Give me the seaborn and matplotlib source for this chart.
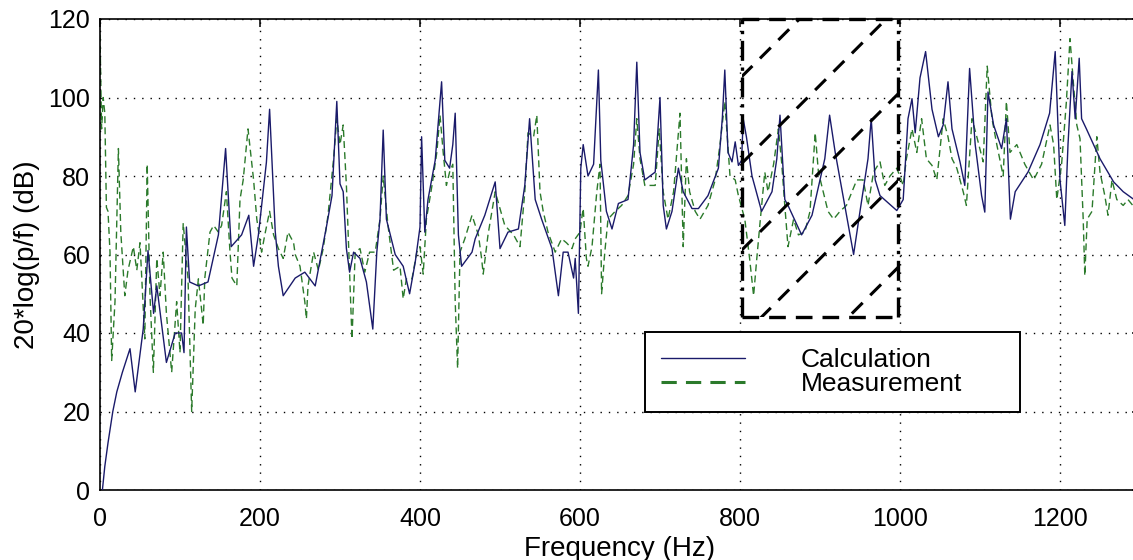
import pandas as pd
import matplotlib.pyplot as plt
import seaborn as sns
from matplotlib.lines import Line2D
from matplotlib.patches import Rectangle

# Calculation (solid) : frequence (Hz) / niveau (dB)
calc_hz = [3, 6, 10, 16, 21, 28, 37.5, 44, 54, 60, 67, 71, 83, 94, 102, 105, 108, 112, 123, 135,
           148, 157, 164, 177, 186, 192, 198, 208, 212, 219, 223, 229, 244, 256, 269, 283, 290, 296,
           300, 304, 308, 312, 317, 325, 333, 341, 346, 350, 354, 358, 369, 379, 387, 394, 400, 402,
           406, 410, 419, 427, 431, 437, 441, 444, 448, 452, 465, 469, 481, 494, 500, 510, 523, 531,
           537, 544, 552, 565, 573, 579, 585, 592, 594, 598, 601, 604, 610, 617, 623, 626, 633, 640,
           648, 660, 667, 671, 675, 681, 694, 700, 704, 708, 715, 723, 729, 740, 748, 760, 773, 778,
           781, 785, 790, 794, 798, 802, 804, 808, 815, 827, 840, 846, 850, 856, 860, 877, 890, 906,
           912, 919, 931, 942, 950, 960, 964, 969, 975, 996, 1004, 1010, 1015, 1019, 1025, 1032,
           1040, 1048, 1054, 1060, 1065, 1075, 1081, 1087, 1094, 1102, 1106, 1110, 1117, 1127, 1133,
           1138, 1144, 1160, 1175, 1187, 1194, 1200, 1206, 1210, 1215, 1219, 1224, 1227, 1233, 1250,
           1267, 1279, 1291, 1300]
calc_db = [0, 6, 12, 20, 25, 30, 36, 25, 41, 61, 45, 52, 32.5, 40, 40, 35, 67, 53, 52, 53,
           65, 87, 62, 65, 70, 57, 65, 83.5, 97, 66, 57, 49.5, 54, 55.5, 52, 67, 75, 99,
           78, 76, 61.5, 55.5, 60.6, 59, 53, 41, 60.6, 69, 91.7, 69, 60, 57, 50, 58, 67, 90,
           65.7, 74, 84, 104, 84, 82, 88, 96, 65, 57, 60.6, 64, 70, 78.5, 61.5, 65.7, 66.5, 77.6,
           94.6, 74, 69, 61.5, 49.5, 60.6, 60.6, 54, 59, 45, 82, 88, 80, 83, 107, 84, 71, 66.5,
           73, 74, 88, 109, 86, 79, 81, 100, 72.5, 66.5, 71, 82, 76, 71.7, 71.7, 75, 82, 95,
           107, 86, 83.6, 88.7, 82.7, 84, 94.6, 90, 80, 71, 76, 84.4, 95.5, 74, 72.5, 65, 70, 84.4,
           95.5, 86, 72.5, 60, 71, 84.4, 94.6, 79, 75, 71.2, 74, 94.6, 99.7, 91, 105, 111.7,
           97, 90, 93, 104, 92, 83.6, 77.6, 107.4, 88, 75, 70.8, 101.4, 93, 87, 94.6,
           69, 76, 81, 88, 96, 111.7, 79, 67.4, 88, 106.6, 94.6, 110, 94.6, 92, 84.4,
           78.5, 76, 74.2, 73]

# Measurement (dashed)
meas_hz = [0, 2, 4, 6, 8, 10, 12.5, 14.6, 18.75, 23, 26, 31, 35, 41.7, 46, 50, 56, 59, 62.5, 66.7,
           71, 75, 79, 83, 89.6, 95.8, 100, 104, 110, 114.6, 119, 123, 129, 131, 137.5, 142, 148,
           152, 158, 162.5, 165, 171, 175, 179, 185, 192, 194, 196, 202, 206, 212, 217, 223, 229,
           235, 242, 244, 250, 256, 258, 260, 267, 273, 279, 285, 292, 296, 300, 304, 308, 312,
           315, 319, 325, 331, 337, 344, 350, 354, 360, 367, 375, 379, 383, 390, 396, 400, 404,
           408, 415, 421, 425, 429, 433, 437, 441, 444, 447, 450, 456, 465, 473, 477, 479, 485,
           494, 500, 506, 517, 525, 531, 535, 542, 546, 550, 554, 560, 569, 577, 583, 590, 594,
           600, 602, 604, 608, 610, 615, 621, 625, 627, 631, 635, 644, 652, 660, 667, 671, 675,
           681, 694, 699, 704, 710, 717, 721, 725, 729, 733, 737, 744, 750, 760, 769, 775, 781,
           787.5, 794, 798, 806, 812, 817, 821, 825, 831, 835, 842, 848, 852, 856, 860, 867, 873,
           881, 887.5, 894, 898, 904, 910, 917, 925, 933, 940, 946, 954, 960, 967, 975, 981, 987.5,
           996, 1004, 1008, 1015, 1021, 1027, 1033, 1040, 1046, 1054, 1060, 1065, 1071, 1079, 1083,
           1090, 1096, 1104, 1109, 1115, 1121, 1129, 1133, 1137.5, 1146, 1156, 1167, 1177, 1187.5,
           1192, 1196, 1202, 1208, 1212.5, 1217, 1221, 1225, 1229, 1231, 1234, 1240, 1246, 1250,
           1256, 1260, 1265, 1271, 1279, 1285, 1291, 1300]
meas_db = [116, 92, 100, 96, 72, 71, 60.6, 33, 48, 87, 65.7, 49.5, 56, 62, 56, 63, 38.5, 83, 49.5, 30,
           59, 49.5, 60.6, 45, 30, 48, 35, 68, 54, 20, 46, 53.8, 42, 54, 65.7, 67.4, 65.7,
           67.4, 76, 60.6, 54, 52, 74, 79, 92, 79, 74, 69, 60.6, 65, 71, 65, 61.5, 59,
           65.7, 63, 60, 57, 48, 43.6, 52, 60.6, 56, 61.5, 70, 84.4, 94.6, 88, 93, 77.6, 55.5,
           38.5, 60.6, 61.5, 55.5, 60.6, 60.6, 69, 80, 67.4, 56, 57, 48.7, 53.8, 53.8, 60.6, 62, 55,
           69, 77.6, 86, 95.5, 86, 77.6, 81, 83, 48, 31, 60.6, 64, 70, 65, 59, 55, 65,
           76, 71.7, 67.4, 65, 62, 76, 91, 90, 95.5, 76, 71, 65.7, 60.6, 64, 63, 61.5, 64,
           65.7, 69, 71.7, 59, 57, 62, 76, 83, 50, 60.6, 69, 71, 72.5, 75, 83, 94.6, 84.4,
           77.6, 77.6, 92, 76, 69, 76, 86, 96, 62, 84.4, 76, 71, 69, 72.5, 79, 88, 99,
           80, 79, 75, 69, 59, 49.5, 59, 68, 81, 76, 83, 92, 83.6, 72.5, 62, 69, 65,
           65.7, 71, 91, 81, 76, 71, 69, 71, 72.5, 76, 79, 79, 72.5, 81, 83.6, 77.6, 80,
           82, 77.6, 84.4, 92, 86, 94.6, 84.4, 82.7, 79, 94.6, 90, 84.4, 82, 76, 72.5,
           94.6, 90, 83.6, 108, 94.6, 88, 80, 99, 86, 88, 83, 79, 83, 93,
           88, 74, 83, 99, 115, 103, 93, 89.5, 69, 54.6, 69, 71, 90, 81,
           75, 70, 79, 74, 72.5, 74, 72.5, 73]

x_ticks = [0, 200, 400, 600, 800, 1000, 1200]
y_ticks = [0, 20, 40, 60, 80, 100, 120]

# zone hachuree (800-1000 Hz)
box_hz = (802, 998)
box_db = (44, 120)

calc_color = '#1a1a6a'
meas_color = '#2b7a2b'

sns.set_style("white")
plt.rcParams['font.family'] = ['Liberation Sans', 'DejaVu Sans']
plt.rcParams['text.color'] = 'black'
plt.rcParams['axes.labelcolor'] = 'black'

fig = plt.figure(figsize=(11.33, 5.6), dpi=100)
# l'axe droit (1300 Hz) tombe juste hors de l'image, comme sur la figure d'origine
ax = fig.add_axes([100 / 1133, 70 / 560, 1040 / 1133, 471 / 560])

calc = pd.DataFrame({'freq': calc_hz, 'db': calc_db})
meas = pd.DataFrame({'freq': meas_hz, 'db': meas_db})

sns.lineplot(data=meas, x='freq', y='db', ax=ax, color=meas_color, lw=1.0,
             linestyle=(0, (5, 3)), estimator=None, sort=False, zorder=2)
sns.lineplot(data=calc, x='freq', y='db', ax=ax, color=calc_color, lw=1.0,
             estimator=None, sort=False, zorder=3)

ax.set_xlim(0, 1300)
ax.set_ylim(0, 120)
ax.set_xticks(x_ticks)
ax.set_yticks(y_ticks)
ax.tick_params(axis='both', direction='in', length=6, width=1.1, top=True, right=True,
               labelsize=18, color='black', labelcolor='black')
ax.tick_params(axis='x', pad=12)
ax.tick_params(axis='y', pad=7)
ax.grid(True, color='black', linestyle=(0, (1, 5)), lw=1.0)
ax.set_axisbelow(True)
for s in ax.spines.values():
    s.set_color('black')
    s.set_linewidth(1.2)

ax.set_xlabel('Frequency (Hz)', fontsize=20)
ax.set_ylabel('20*log(p/f) (dB)', fontsize=20)
ax.xaxis.set_label_coords(0.5, -0.098)
ax.yaxis.set_label_coords(-0.058, 0.5)

# cadre + hachures de la zone 800-1000 Hz
clip = Rectangle((box_hz[0], box_db[0]), box_hz[1] - box_hz[0], box_db[1] - box_db[0],
                 fill=False, edgecolor='none', transform=ax.transData)
ax.add_patch(clip)
slope = 0.2036  # 45 degres a l'ecran
for k in range(7):
    y0 = 128.2 - 22.1 * k
    ln, = ax.plot([box_hz[0], box_hz[1]],
                  [y0 + slope * (box_hz[0] - 806), y0 + slope * (box_hz[1] - 806)],
                  color='black', lw=2.2, linestyle=(0, (5, 3.5)), zorder=5)
    ln.set_clip_path(clip)
for xv in box_hz:
    ax.plot([xv, xv], box_db, color='black', lw=2.4, linestyle=(0, (6, 2, 1, 2)),
            zorder=6, clip_on=False)
for yv in box_db:
    ax.plot(box_hz, [yv, yv], color='black', lw=2.4, linestyle=(0, (5, 3)),
            zorder=6, clip_on=False)

handles = [Line2D([], [], color=calc_color, lw=1.0),
           Line2D([], [], color=meas_color, lw=2.2, linestyle=(0, (5, 3)))]
leg = ax.legend(handles, ['Calculation', 'Measurement'], loc='upper left',
                bbox_to_anchor=(645 / 1133, 1 - 332 / 560, 375 / 1133, 0),
                bbox_transform=fig.transFigure, mode='expand', borderaxespad=0,
                fontsize=19, handlelength=3.2, handletextpad=2.1, labelspacing=0.0,
                borderpad=0.6, fancybox=False, framealpha=1, edgecolor='black')
leg.get_frame().set_linewidth(1.4)
leg.set_zorder(10)

fig.savefig('out.png', dpi=100)
